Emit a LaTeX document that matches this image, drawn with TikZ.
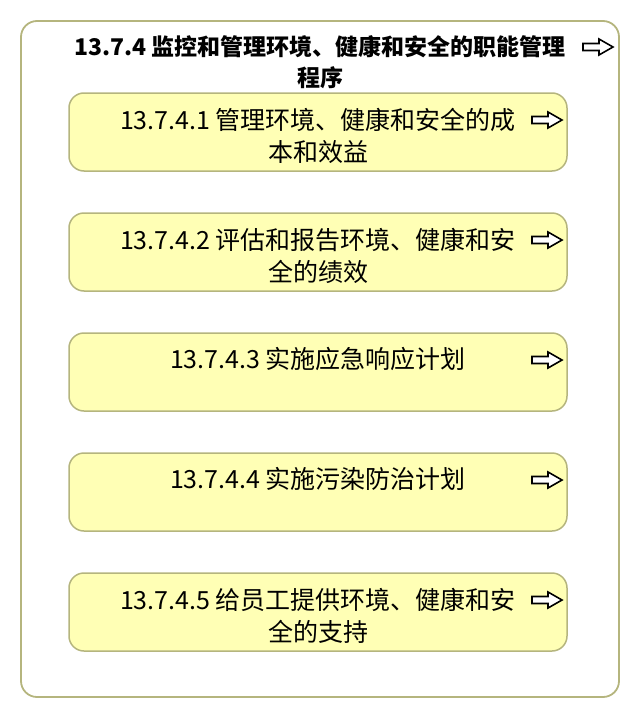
\documentclass[tikz,border=0pt]{standalone}
\usepackage{fontspec}
\setmainfont{Noto Sans CJK SC}
\usetikzlibrary{positioning}

\definecolor{frameline}{HTML}{B5B57E}
\definecolor{boxfill}{HTML}{FFFFB5}

\tikzset{
	goicon/.pic={
		\draw[line width=1.6pt, line join=miter, fill=white] (-15,-3.5) -- (1,-3.5) -- (1,-8) -- (15,0) -- (1,8) -- (1,3.5) -- (-15,3.5) -- cycle;
	}
}

\begin{document}
\begin{tikzpicture}[x=1pt, y=-1pt]
		\useasboundingbox (0,0) rectangle (640,720);

		% outer frame
		\node[draw=frameline, line width=1.8pt, rounded corners=16pt, minimum width=598pt, minimum height=676pt, inner sep=0pt] (Frame) at (320,359) {};
		\node[font=\bfseries\fontsize{23}{31}\selectfont, align=center] (Title) at (320,62) {13.7.4 监控和管理环境、健康和安全的职能管理\\程序};
		\pic at (598,47) {goicon};

		\begin{scope}[every node/.style={draw=frameline, fill=boxfill, line width=1.5pt, rounded corners=15pt, minimum width=498pt, minimum height=78pt, inner sep=0pt}]
			\node (B1) at (318,132) {};
			\node (B2) at (318,252) {};
			\node (B3) at (318,372) {};
			\node (B4) at (318,492) {};
			\node (B5) at (318,612) {};
		\end{scope}

		\begin{scope}[every node/.style={font=\fontsize{25}{32}\selectfont, align=center}]
			\node (T1) at (318,136) {13.7.4.1 管理环境、健康和安全的成\\本和效益};
			\node (T2) at (318,256) {13.7.4.2 评估和报告环境、健康和安\\全的绩效};
			\node (T3) at (318,359) {13.7.4.3 实施应急响应计划};
			\node (T4) at (318,479) {13.7.4.4 实施污染防治计划};
			\node (T5) at (318,616) {13.7.4.5 给员工提供环境、健康和安\\全的支持};
		\end{scope}

		\pic at (547,120) {goicon};
		\pic at (547,240) {goicon};
		\pic at (547,360) {goicon};
		\pic at (547,480) {goicon};
		\pic at (547,600) {goicon};
\end{tikzpicture}
\end{document}
